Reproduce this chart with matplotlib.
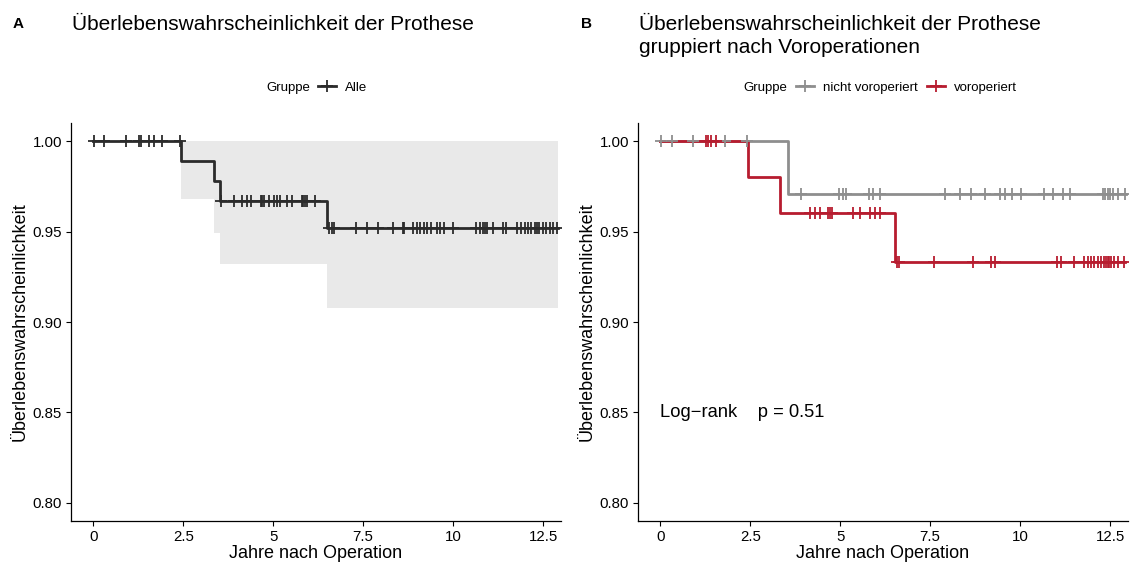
import numpy as np
import matplotlib
matplotlib.use('Agg')
import matplotlib.pyplot as plt
from matplotlib.lines import Line2D

plt.rcParams['font.family'] = ['Liberation Sans', 'DejaVu Sans']

# --- Panel A: alle Patienten ---
end_A = 12.93
event_A = [2.44, 3.36, 3.53, 6.5]
surv_A = [0.989, 0.978, 0.967, 0.952]
lower_A = [0.968, 0.949, 0.932, 0.9075]
upper_A = [1.0, 1.0, 1.0, 1.0]
cens_A = [0.02, 0.3, 0.9, 1.27, 1.33, 1.55, 1.7, 1.9, 2.42,
          3.56, 3.9, 4.13, 4.27, 4.38, 4.66, 4.7, 4.75, 4.87, 5.01, 5.1, 5.19,
          5.38, 5.52, 5.8, 5.84, 5.89, 5.93, 6.17,
          6.56, 6.63, 6.68, 7.31, 7.6, 7.9, 8.32, 8.62, 8.64, 8.9, 8.99, 9.08,
          9.19, 9.28, 9.4, 9.54, 9.64, 9.75, 10.01, 10.64, 10.75, 10.82, 10.89,
          10.93, 11.1, 11.4, 11.47, 11.78, 11.9, 12.0, 12.09, 12.18, 12.28,
          12.32, 12.4, 12.5, 12.57, 12.69, 12.77, 12.88]

# --- Panel B: nach Voroperationen ---
end_nv = 12.95
event_nv = [3.56]
surv_nv = [0.971]
cens_nv = [0.03, 0.32, 0.91, 1.8, 2.42,
           3.92, 4.98, 5.07, 5.17, 5.81, 5.9, 6.11, 7.92, 8.34, 8.64, 9.03,
           9.45, 9.58, 9.77, 10.03, 10.66, 10.92, 11.19, 11.39, 12.3, 12.37,
           12.44, 12.51, 12.57, 12.71, 12.92]

end_vo = 12.93
event_vo = [2.44, 3.33, 6.53]
surv_vo = [0.98, 0.96, 0.933]
cens_vo = [1.27, 1.33, 1.4, 1.55,
           4.15, 4.29, 4.44, 4.66, 4.71, 4.77, 5.35, 5.54, 5.84, 5.98, 6.12,
           6.58, 6.64, 7.62, 8.69, 9.19, 9.29, 11.03, 11.14, 11.51, 11.79,
           11.88, 11.97, 12.06, 12.16, 12.25, 12.34, 12.39, 12.44, 12.48,
           12.53, 12.62, 12.71, 12.9]

col_all = '#2b2b2b'
col_nv = '#8e8e8e'
col_vo = '#b71c2f'
band = '#e9e9e9'


def km_steps(events, surv, end):
    t = np.concatenate([[0.0], events, [end]])
    s = np.concatenate([[1.0], surv, [surv[-1]]])
    return t, s


def surv_at(times, events, surv):
    s = np.concatenate([[1.0], surv])
    idx = np.searchsorted(events, times, side='right')
    return s[idx]


def style_axis(ax):
    for side in ['top', 'right']:
        ax.spines[side].set_visible(False)
    for side in ['left', 'bottom']:
        ax.spines[side].set_linewidth(0.9)
    ax.set_xlim(-0.62, 13.0)
    ax.set_ylim(0.79, 1.01)
    ax.set_xticks([0, 2.5, 5, 7.5, 10, 12.5])
    ax.set_xticklabels(['0', '2.5', '5', '7.5', '10', '12.5'])
    ax.set_yticks([0.80, 0.85, 0.90, 0.95, 1.00])
    ax.set_yticklabels(['0.80', '0.85', '0.90', '0.95', '1.00'])
    ax.tick_params(labelsize=10.8, length=3.5, width=0.8, colors='black', pad=3)
    ax.set_xlabel('Jahre nach Operation', fontsize=13, labelpad=1)
    ax.set_ylabel('Überlebenswahrscheinlichkeit', fontsize=13, labelpad=3)


fig = plt.figure(figsize=(11.3, 5.66), dpi=100)
W, H = 1130, 566
axA = fig.add_axes([71 / W, 1 - 521 / H, 490 / W, 398 / H])
axB = fig.add_axes([638 / W, 1 - 521 / H, 490 / W, 398 / H])

# Panel A
t, s = km_steps(event_A, surv_A, end_A)
tb = np.concatenate([event_A, [end_A]])
lo = np.concatenate([lower_A, [lower_A[-1]]])
up = np.concatenate([upper_A, [upper_A[-1]]])
axA.fill_between(tb, lo, up, step='post', color=band, lw=0, zorder=1)
axA.step(t, s, where='post', color=col_all, lw=2, zorder=2)
axA.plot(cens_A, surv_at(cens_A, event_A, surv_A), ls='none', marker='+',
         ms=8, mew=1.3, color=col_all, zorder=3)
style_axis(axA)

# Panel B
for ev, sv, end, cens, col in [(event_nv, surv_nv, end_nv, cens_nv, col_nv),
                               (event_vo, surv_vo, end_vo, cens_vo, col_vo)]:
    t, s = km_steps(ev, sv, end)
    axB.step(t, s, where='post', color=col, lw=2, zorder=2)
    axB.plot(cens, surv_at(cens, ev, sv), ls='none', marker='+',
             ms=8, mew=1.3, color=col, zorder=3)
style_axis(axB)
axB.text(0, 0.85, 'Log\u2212rank    p = 0.51', fontsize=13.2, ha='left', va='center')

# Titel und Beschriftungen
fig.text(13 / W, 1 - 24 / H, 'A', fontsize=11, fontweight='bold', va='center')
fig.text(72 / W, 1 - 24 / H, 'Überlebenswahrscheinlichkeit der Prothese',
         fontsize=15, va='center')
fig.text(581 / W, 1 - 24 / H, 'B', fontsize=11, fontweight='bold', va='center')
fig.text(639 / W, 1 - 36 / H,
         'Überlebenswahrscheinlichkeit der Prothese\ngruppiert nach Voroperationen',
         fontsize=15, va='center', linespacing=1.22)

# Legenden
leg_kw = dict(loc='center left', frameon=False, fontsize=9.5, handlelength=1.37,
              handletextpad=0.68, columnspacing=0.68, borderaxespad=0, borderpad=0)
fig.text(266 / W, 1 - 88 / H, 'Gruppe', fontsize=9.5, va='center')
hA = [Line2D([], [], color=col_all, lw=2, marker='+', ms=8, mew=1.3)]
fig.legend(hA, ['Alle'], bbox_to_anchor=(318 / W, 1 - 88 / H), **leg_kw)

fig.text(743 / W, 1 - 88 / H, 'Gruppe', fontsize=9.5, va='center')
hB = [Line2D([], [], color=col_nv, lw=2, marker='+', ms=8, mew=1.3),
      Line2D([], [], color=col_vo, lw=2, marker='+', ms=8, mew=1.3)]
fig.legend(hB, ['nicht voroperiert', 'voroperiert'], ncol=2,
           bbox_to_anchor=(796 / W, 1 - 88 / H), **leg_kw)

fig.savefig('out.png', dpi=100)
